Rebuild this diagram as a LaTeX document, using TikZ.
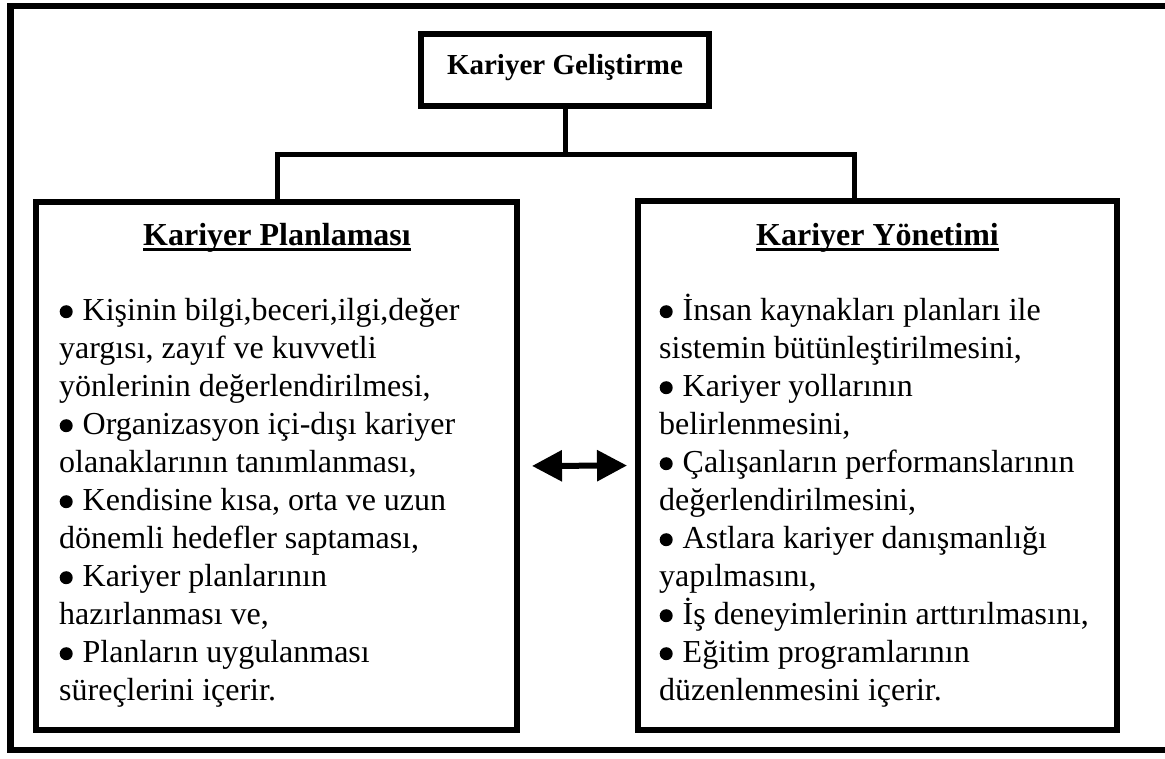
\documentclass[tikz,border=0pt]{standalone}
\usepackage{fontspec}
\setmainfont{Liberation Serif}
\usetikzlibrary{arrows.meta}
\tikzset{
  box/.style={draw, line width=6pt, inner sep=0pt, outer sep=0pt, rectangle},
  conn/.style={line width=5pt, line join=miter, line cap=rect},
  frame/.style={line width=6.5pt, line join=miter},
  toptext/.style={inner sep=0pt, anchor=base, font=\fontsize{29}{34}\selectfont\bfseries},
  titletext/.style={inner sep=0pt, anchor=base, font=\fontsize{32}{38}\selectfont\bfseries},
  uline/.style={line width=3.5pt},
  bodytext/.style={inner sep=0pt, anchor=north west, align=left, font=\fontsize{32}{38}\selectfont},
  dblarrow/.style={line width=6pt, {Triangle[length=30pt,width=30pt]}-{Triangle[length=30pt,width=30pt]}}
}
\newcommand{\bul}{\makebox[23.5pt][l]{\hspace{0.5pt}\tikz[x=1pt,y=1pt,baseline=0pt]\fill[black] (6.5,8.5) circle (6.5);}}
\begin{document}
\begin{tikzpicture}[x=1pt,y=-1pt]
\useasboundingbox (0,0) rectangle (1165,758);
\fill[white] (0,0) rectangle (1165,758);
% outer frame
\draw[frame] (10.5,6) rectangle (1195,750);
% boxes
\node[box, minimum width=288pt, minimum height=71.5pt] (top) at (565,69.75) {};
\node[box, minimum width=480.5pt, minimum height=528pt] (lp) at (276.25,466) {};
\node[box, minimum width=479pt, minimum height=529pt] (rp) at (877.5,465.5) {};
% connectors
\coordinate (jl) at (277.5,154);
\coordinate (jr) at (854,154);
\draw[conn] (top.south) -- (top.south |- jl);
\draw[conn] (jl |- lp.north) -- (jl) -- (jr) -- (jr |- rp.north);
% top text
\node[toptext] (toptxt) at (565,74) {Kariyer Geliştirme};
% titles
\node[titletext] (lt) at (277,245) {Kariyer Planlaması};
\draw[uline] ([yshift=-4.5pt]lt.base west) -- ([yshift=-4.5pt]lt.base east);
\node[titletext] (rt) at (877.5,245) {Kariyer Yönetimi};
\draw[uline] ([yshift=-4.5pt]rt.base west) -- ([yshift=-4.5pt]rt.base east);
% body texts
\node[bodytext] (ltx) at (59,293.4) {\strut\bul Kişinin bilgi,beceri,ilgi,değer\\
yargısı, zayıf ve kuvvetli\\
yönlerinin değerlendirilmesi,\\
\bul Organizasyon içi-dışı kariyer\\
olanaklarının tanımlanması,\\
\bul Kendisine kısa, orta ve uzun\\
dönemli hedefler saptaması,\\
\bul Kariyer planlarının\\
hazırlanması ve,\\
\bul Planların uygulanması\\
süreçlerini içerir.};
\node[bodytext] (rtx) at (659,293.4) {\strut\bul İnsan kaynakları planları ile\\
sistemin bütünleştirilmesini,\\
\bul Kariyer yollarının\\
belirlenmesini,\\
\bul Çalışanların performanslarının\\
değerlendirilmesini,\\
\bul Astlara kariyer danışmanlığı\\
yapılmasını,\\
\bul İş deneyimlerinin arttırılmasını,\\
\bul Eğitim programlarının\\
düzenlenmesini içerir.};
% double arrow
\draw[dblarrow, shorten <=15.5pt, shorten >=11pt] (lp.east) -- (rp.west);
\end{tikzpicture}
\end{document}
